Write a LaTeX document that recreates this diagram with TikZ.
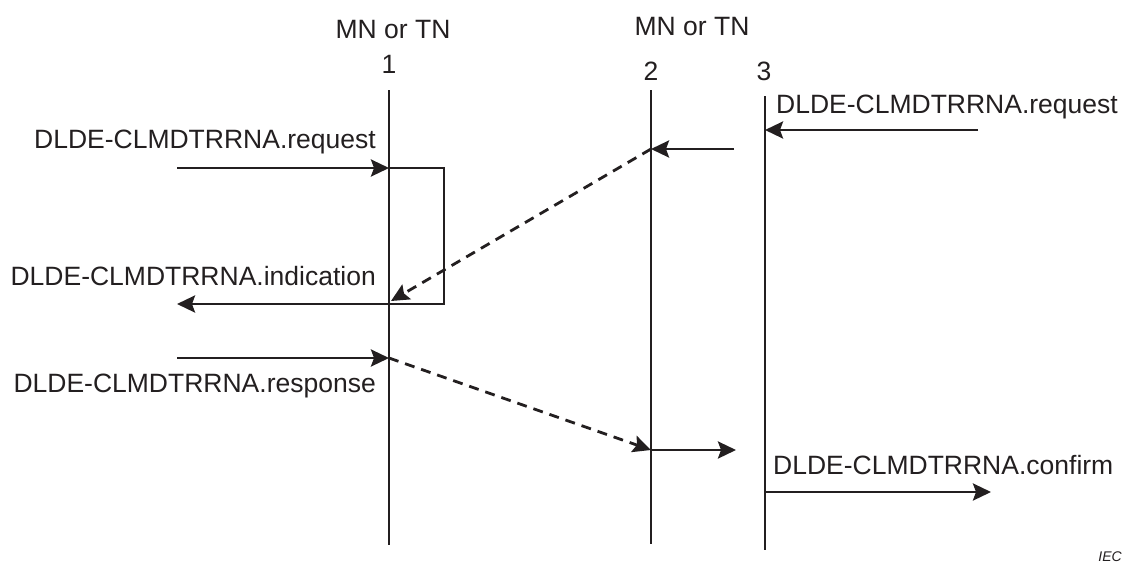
\documentclass[tikz,border=0pt]{standalone}
\usepackage{fontspec}
\setmainfont{Liberation Sans}
\usetikzlibrary{arrows.meta, positioning}
\definecolor{inkgrey}{RGB}{35, 31, 32}

\begin{document}
\begin{tikzpicture}[x=1pt, y=-1pt,
  lifeline/.style={line width=2.8pt, inkgrey},
  msg/.style={line width=2.8pt, inkgrey, -{Stealth[length=18pt, width=17pt, inset=3pt]}},
  relay/.style={msg, dash pattern=on 10pt off 7pt},
  prim/.style={font=\fontsize{26.5}{30}\selectfont, text=inkgrey, inner sep=0pt}]
  \useasboundingbox (0,0) rectangle (1123,562);

  % Lifelines 1, 2, 3
  \coordinate (l1top) at (389,90);  \coordinate (l1bot) at (389,545);
  \coordinate (l2top) at (651,90);  \coordinate (l2bot) at (651,544);
  \coordinate (l3top) at (765,96);  \coordinate (l3bot) at (765,550);
  \draw[lifeline] (l1top) -- (l1bot);
  \draw[lifeline] (l2top) -- (l2bot);
  \draw[lifeline] (l3top) -- (l3bot);

  % Headings
  \node[prim, anchor=base] (headA) at (393,38) {MN or TN};
  \node[prim, anchor=base] (num1) at (389,73) {1};
  \node[prim, anchor=base] (headB) at (692,35) {MN or TN};
  \node[prim, anchor=base] (num2) at (651,80) {2};
  \node[prim, anchor=base] (num3) at (764,80) {3};

  % Request at node 3, relayed by node 2
  \coordinate (reqRin) at (978,130);  \coordinate (reqRat) at (765,130);
  \draw[msg] (reqRin) -- (reqRat);
  \node[prim, anchor=base west] (reqR) at (776,113) {DLDE-CLMDTRRNA.request};
  \coordinate (relIn) at (734,149);  \coordinate (relAt) at (651,149);
  \draw[msg] (relIn) -- (relAt);
  \coordinate (indAt) at (391,301);
  \draw[relay] (relAt) -- (indAt);

  % Request and indication at node 1
  \coordinate (reqLin) at (177,168);  \coordinate (reqLat) at (389,168);
  \draw[msg] (reqLin) -- (reqLat);
  \node[prim, anchor=base east] (reqL) at (376,148) {DLDE-CLMDTRRNA.request};
  \coordinate (loopA) at (444,168);  \coordinate (loopB) at (444,304);
  \coordinate (loopC) at (389,304);
  \draw[lifeline] (reqLat) -- (loopA) -- (loopB) -- (loopC);
  \coordinate (indOut) at (177,304);
  \draw[msg] (loopC) -- (indOut);
  \node[prim, anchor=base east] (indL) at (376,285) {DLDE-CLMDTRRNA.indication};

  % Response at node 1, confirm at node 3
  \coordinate (rspIn) at (177,358);  \coordinate (rspAt) at (389,358);
  \draw[msg] (rspIn) -- (rspAt);
  \node[prim, anchor=base east] (rspL) at (376,392) {DLDE-CLMDTRRNA.response};
  \coordinate (fwdAt) at (651,450);  \coordinate (fwdOut) at (736,450);
  \draw[relay] (rspAt) -- (fwdAt);
  \draw[msg] (fwdAt) -- (fwdOut);
  \coordinate (cnfAt) at (765,492);  \coordinate (cnfOut) at (991,492);
  \draw[msg] (cnfAt) -- (cnfOut);
  \node[prim, anchor=base west] (cnfR) at (773,474) {DLDE-CLMDTRRNA.confirm};

  % Mark
  \node[font=\fontsize{14}{16}\selectfont\itshape, text=inkgrey, inner sep=0pt, anchor=base east] (iec) at (1122,561) {IEC};
\end{tikzpicture}
\end{document}
